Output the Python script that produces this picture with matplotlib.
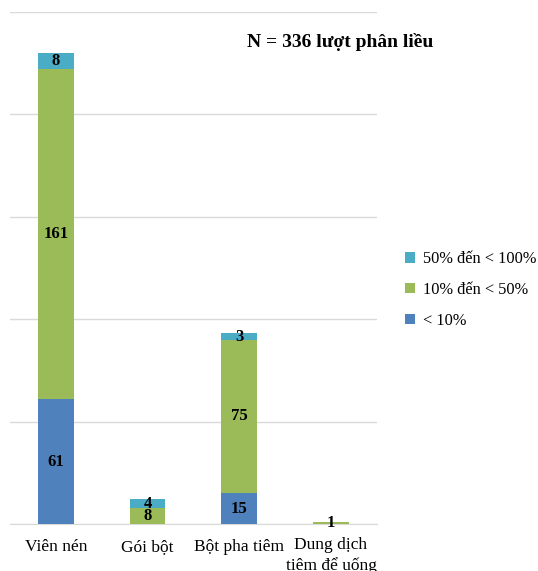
import unicodedata
import numpy as np
import matplotlib.pyplot as plt

plt.rcParams['font.family'] = ['Liberation Serif', 'DejaVu Serif']

# Dữ liệu
loai = ['Viên nén', 'Gói bột', 'Bột pha tiêm', 'Dung dịch\ntiêm để uống']
loai = [unicodedata.normalize('NFC', s) for s in loai]
duoi_10 = [61, 0, 15, 0]
tu_10_50 = [161, 8, 75, 1]
tu_50_100 = [8, 4, 3, 0]
nhom = ['< 10%', '10% đến < 50%', '50% đến < 100%']
nhom = [unicodedata.normalize('NFC', s) for s in nhom]
mau = ['#4F81BD', '#9BBB59', '#4BACC6']

fig = plt.figure(figsize=(5.38, 5.71), dpi=100)
ax = fig.add_axes([0.0186, 0.0823, 0.682, 0.897])

x = np.arange(len(loai))
w = 0.39
day = np.zeros(len(loai))
for vals, ten, c in zip([duoi_10, tu_10_50, tu_50_100], nhom, mau):
    ax.bar(x, vals, w, bottom=day, color=c, label=ten, zorder=3)
    for xi, v, d in zip(x, vals, day):
        if v > 0:
            ax.text(xi, d + v / 2, str(v), ha='center', va='center',
                    fontsize=12, fontweight='bold', zorder=4)
    day = day + np.array(vals)

ax.set_xlim(-0.5, 3.5)
ax.set_ylim(0, 250)
ax.set_yticks(range(0, 251, 50))
ax.yaxis.grid(True, color='#D9D9D9', linewidth=1)
ax.tick_params(axis='y', left=False, labelleft=False)
ax.set_xticks(x)
ax.set_xticklabels([])
ax.tick_params(axis='x', length=0)
for s in ['top', 'right', 'left']:
    ax.spines[s].set_visible(False)
ax.spines['bottom'].set_color('#D9D9D9')

# nhãn trục x, canh theo đường chân chữ của dòng cuối
tr = ax.get_xaxis_transform()
for xi, ten in zip(x, loai):
    y = -0.0898 if '\n' in ten else -0.0527
    ax.text(xi, y, ten, transform=tr, ha='center', va='baseline',
            fontsize=12.5, linespacing=1.3, multialignment='center')

fig.text(0.632, 0.926, unicodedata.normalize('NFC', 'N = 336 lượt phân liều'),
         ha='center', va='center', fontsize=14, fontweight='bold')

h, l = ax.get_legend_handles_labels()
fig.legend(h[::-1], l[::-1], loc='center left', bbox_to_anchor=(0.726, 0.492),
           frameon=False, fontsize=11.8, handlelength=0.6, handleheight=0.6,
           handletextpad=0.45, labelspacing=0.9)

fig.savefig('out.png', dpi=100)
